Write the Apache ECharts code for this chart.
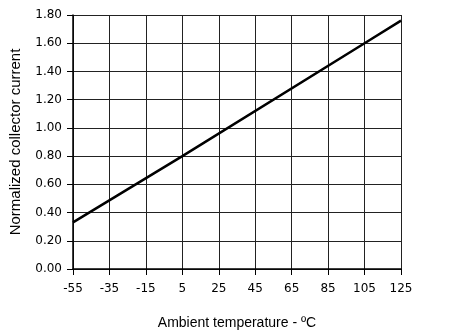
<!DOCTYPE html>
<html><head><meta charset="utf-8">
<script src="https://cdn.jsdelivr.net/npm/echarts@6/dist/echarts.min.js"></script>
<style>html,body{margin:0;padding:0;background:#fff}#c{width:468px;height:336px}</style>
</head><body><div id="c"></div>
<script>
const temps = [-55, 5, 105, 125];
const current = [0.33, 0.80, 1.60, 1.76];
const xTicks = [-55, -35, -15, 5, 25, 45, 65, 85, 105, 125];
const yTicks = [0, 0.2, 0.4, 0.6, 0.8, 1.0, 1.2, 1.4, 1.6, 1.8];

const chart = echarts.init(document.getElementById('c'), null, {renderer: 'canvas'});
const font = 'Liberation Sans, Arial, Helvetica, sans-serif';
const tickFont = 'DejaVu Sans, Liberation Sans, sans-serif';
chart.setOption({
  animation: false,
  backgroundColor: '#fff',
  grid: {left: 73, right: 67, top: 15, bottom: 67, containLabel: false},
  xAxis: {
    type: 'value', min: -55, max: 125, interval: 20,
    axisLine: {show: true, onZero: false, lineStyle: {color: '#000', width: 1.5}},
    axisTick: {show: true, length: 6, lineStyle: {color: '#000', width: 1}},
    axisLabel: {color: '#000', fontSize: 12, fontFamily: tickFont, margin: 14,
      formatter: v => xTicks.includes(v) ? String(v) : ''},
    splitLine: {show: true, lineStyle: {color: '#222', width: 1}},
    name: 'Ambient temperature - ºC', nameLocation: 'middle', nameGap: 47,
    nameTextStyle: {color: '#000', fontSize: 14, fontFamily: font}
  },
  yAxis: {
    type: 'value', min: 0, max: 1.8, interval: 0.2,
    axisLine: {show: true, onZero: false, lineStyle: {color: '#000', width: 1.5}},
    axisTick: {show: true, length: 6, lineStyle: {color: '#000', width: 1}},
    axisLabel: {color: '#000', fontSize: 12, fontFamily: tickFont, margin: 11,
      formatter: v => {
        const t = yTicks.find(y => Math.abs(y - v) < 1e-6);
        return t === undefined ? '' : t.toFixed(2);
      }},
    splitLine: {show: true, lineStyle: {color: '#222', width: 1}},
    name: 'Normalized collector current', nameLocation: 'middle', nameGap: 50,
    nameTextStyle: {color: '#000', fontSize: 15, fontFamily: font}
  },
  series: [{
    type: 'line', data: temps.map((t, i) => [t, current[i]]),
    showSymbol: false, lineStyle: {color: '#000', width: 2.5}, z: 5
  }]
});
</script></body></html>
